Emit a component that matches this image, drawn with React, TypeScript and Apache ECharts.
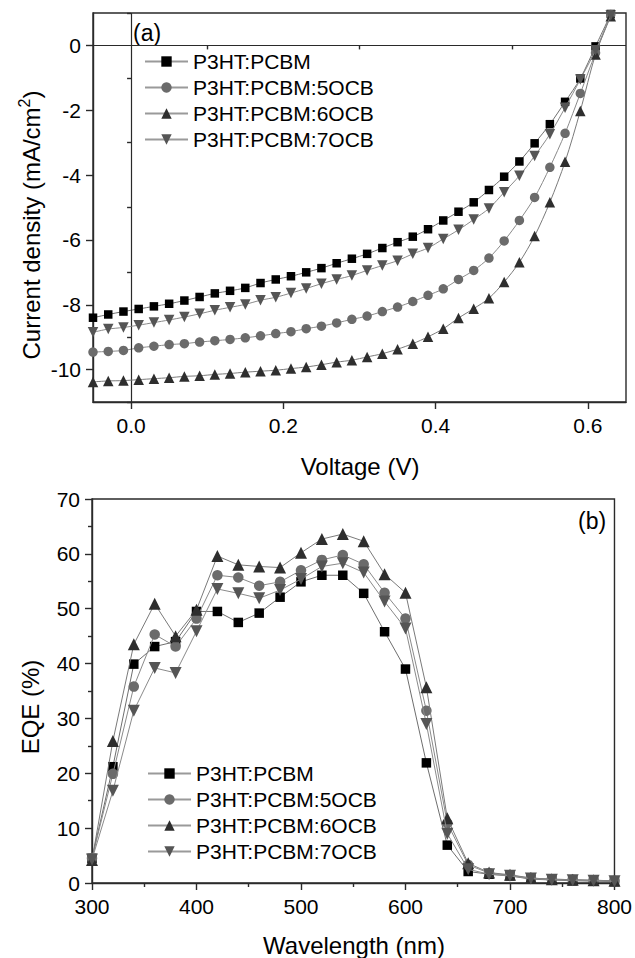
import React, { useEffect, useRef } from "react";
import * as echarts from "echarts";

const seriesNames = ["P3HT:PCBM", "P3HT:PCBM:5OCB", "P3HT:PCBM:6OCB", "P3HT:PCBM:7OCB"];

// Panel (a): J-V curves
const voltage = [-0.05, -0.03, -0.01, 0.01, 0.03, 0.05, 0.07, 0.09, 0.11, 0.13, 0.15, 0.17, 0.19, 0.21, 0.23, 0.25, 0.27, 0.29, 0.31, 0.33, 0.35, 0.37, 0.39, 0.41, 0.43, 0.45, 0.47, 0.49, 0.51, 0.53, 0.55, 0.57, 0.59, 0.61, 0.63];
const jRef = [-8.40, -8.30, -8.21, -8.13, -8.05, -7.97, -7.87, -7.76, -7.65, -7.57, -7.48, -7.33, -7.22, -7.12, -7.00, -6.87, -6.72, -6.58, -6.43, -6.25, -6.07, -5.90, -5.67, -5.40, -5.13, -4.84, -4.46, -4.05, -3.58, -3.02, -2.43, -1.74, -1.02, -0.03, 0.97];
const j5 = [-9.46, -9.44, -9.41, -9.33, -9.28, -9.23, -9.20, -9.15, -9.11, -9.07, -9.02, -8.96, -8.89, -8.83, -8.74, -8.66, -8.56, -8.45, -8.35, -8.21, -8.07, -7.90, -7.71, -7.51, -7.22, -6.94, -6.56, -6.03, -5.40, -4.69, -3.76, -2.71, -1.48, -0.23, 0.95];
const j6 = [-10.38, -10.35, -10.34, -10.31, -10.28, -10.25, -10.21, -10.19, -10.15, -10.12, -10.08, -10.05, -10.02, -9.97, -9.92, -9.85, -9.77, -9.71, -9.61, -9.51, -9.37, -9.20, -8.99, -8.74, -8.41, -8.12, -7.80, -7.30, -6.69, -5.88, -4.84, -3.59, -2.02, -0.28, 0.90];
const j7 = [-8.85, -8.75, -8.70, -8.63, -8.55, -8.47, -8.38, -8.28, -8.17, -8.08, -7.99, -7.86, -7.77, -7.64, -7.50, -7.35, -7.22, -7.10, -6.94, -6.79, -6.64, -6.43, -6.25, -5.97, -5.69, -5.37, -5.03, -4.53, -4.02, -3.41, -2.74, -1.92, -1.05, -0.15, 0.92];

// Panel (b): EQE spectra
const wavelength = [300, 320, 340, 360, 380, 400, 420, 440, 460, 480, 500, 520, 540, 560, 580, 600, 620, 640, 660, 680, 700, 720, 740, 760, 780, 800];
const eqeRef = [4.5, 21.2, 39.9, 43.1, 44.0, 49.5, 49.5, 47.5, 49.2, 52.1, 54.9, 56.1, 56.1, 52.8, 45.8, 39.0, 21.9, 6.9, 2.1, 1.6, 1.3, 0.7, 0.55, 0.4, 0.35, 0.25];
const eqe5 = [4.5, 19.9, 35.8, 45.3, 43.1, 48.2, 56.1, 55.7, 54.2, 54.9, 57.0, 58.9, 59.8, 58.1, 52.9, 48.2, 31.4, 10.9, 3.3, 1.8, 1.4, 0.9, 0.7, 0.6, 0.5, 0.4];
const eqe6 = [4.2, 25.9, 43.5, 50.9, 45.0, 49.8, 59.6, 58.0, 57.7, 57.5, 60.2, 62.7, 63.6, 62.3, 56.3, 52.9, 35.7, 11.8, 3.6, 1.9, 1.5, 0.9, 0.7, 0.6, 0.5, 0.4];
const eqe7 = [4.3, 16.8, 31.4, 39.2, 38.3, 45.9, 53.6, 52.8, 51.9, 53.4, 55.4, 57.7, 58.3, 56.6, 51.3, 46.4, 29.0, 9.0, 2.5, 1.6, 1.3, 0.8, 0.6, 0.5, 0.4, 0.3];

// Tick labels
const jvMajorX = [0, 0.2, 0.4, 0.6];
const jvMinorX = [0.1, 0.3, 0.5];
const jvMajorY = [-10, -8, -6, -4, -2, 0];
const jvMinorY = [-11, -9, -7, -5, -3, -1, 1];

const FONT = "Liberation Sans, Arial, Helvetica, sans-serif";
const TXT = "#000";
const AX = "#2a2a2a";

const markers = [
  { symbol: "rect", rotate: 0, color: "#000000", sizeA: 8.5, sizeB: 9.5, line: "#6e6e6e" },
  { symbol: "circle", rotate: 0, color: "#6b6b6b", sizeA: 9.5, sizeB: 10.5, line: "#8a8a8a" },
  { symbol: "triangle", rotate: 0, color: "#2e2e2e", sizeA: 10.5, sizeB: 12, line: "#7a7a7a" },
  { symbol: "triangle", rotate: 180, color: "#555555", sizeA: 10.5, sizeB: 12, line: "#8a8a8a" },
];

export default function App() {
  const ref = useRef<HTMLDivElement>(null);

  useEffect(() => {
    document.body.style.margin = "0";
    if (!ref.current) return;
    const chart = echarts.init(ref.current, null, { renderer: "svg" });

    const jv = [jRef, j5, j6, j7];
    const eqe = [eqeRef, eqe5, eqe6, eqe7];

    const seriesA = jv.map((ys, i) => ({
      name: seriesNames[i],
      type: "line",
      xAxisIndex: 0,
      yAxisIndex: 0,
      data: voltage.map((v, k) => [v, ys[k]]),
      symbol: markers[i].symbol,
      symbolRotate: markers[i].rotate,
      symbolSize: markers[i].sizeA,
      showSymbol: true,
      smooth: 0.3,
      clip: true,
      itemStyle: { color: markers[i].color, borderWidth: 0 },
      lineStyle: { color: markers[i].line, width: 1 },
      z: 3 + i,
      ...(i === 0
        ? {
            markLine: {
              silent: true,
              symbol: ["none", "none"],
              label: { show: false },
              lineStyle: { color: AX, width: 1.2, type: "solid" },
              emphasis: { disabled: true },
              data: [{ xAxis: 0 }, { yAxis: 0 }],
            },
          }
        : {}),
    }));

    const seriesB = eqe.map((ys, i) => ({
      name: seriesNames[i],
      type: "line",
      xAxisIndex: 2,
      yAxisIndex: 2,
      data: wavelength.map((w, k) => [w, ys[k]]),
      symbol: markers[i].symbol,
      symbolRotate: markers[i].rotate,
      symbolSize: markers[i].sizeB,
      showSymbol: true,
      itemStyle: { color: markers[i].color, borderWidth: 0 },
      lineStyle: { color: markers[i].line, width: 1 },
      z: 3 + i,
    }));

    const labelStyle = { color: TXT, fontSize: 21, fontFamily: FONT };
    const axisLine = { show: true, onZero: false, lineStyle: { color: AX, width: 1.4 } };

    const option: any = {
      animation: false,
      backgroundColor: "#ffffff",
      grid: [
        { left: 93, top: 13, width: 533, height: 389, show: true, borderColor: AX, borderWidth: 1.4, containLabel: false },
        { left: 92, top: 499, width: 524, height: 384, show: true, borderColor: AX, borderWidth: 1.4, containLabel: false },
      ],
      xAxis: [
        {
          gridIndex: 0, type: "value", position: "bottom", min: -0.05, max: 0.65,
          axisLine,
          axisTick: { show: true, customValues: jvMajorX, length: 7, lineStyle: { color: AX, width: 1.4 } },
          axisLabel: { ...labelStyle, customValues: jvMajorX, margin: 13, formatter: (v: number) => v.toFixed(1) },
          splitLine: { show: false },
        },
        {
          gridIndex: 0, type: "value", position: "bottom", offset: 0, min: -0.05, max: 0.65,
          axisLine: { show: false },
          axisTick: { show: true, customValues: jvMinorX, length: 4, lineStyle: { color: AX, width: 1.4 } },
          axisLabel: { show: false },
          splitLine: { show: false },
        },
        {
          gridIndex: 1, type: "value", position: "bottom", min: 300, max: 800, interval: 100,
          axisLine,
          axisTick: { show: true, length: 7, lineStyle: { color: AX, width: 1.4 } },
          minorTick: { show: true, splitNumber: 2, length: 4, lineStyle: { color: AX, width: 1.4 } },
          axisLabel: { ...labelStyle, margin: 13 },
          splitLine: { show: false },
          minorSplitLine: { show: false },
        },
      ],
      yAxis: [
        {
          gridIndex: 0, type: "value", position: "left", min: -11, max: 1,
          axisLine,
          axisTick: { show: true, customValues: jvMajorY, length: 7, lineStyle: { color: AX, width: 1.4 } },
          axisLabel: { ...labelStyle, customValues: jvMajorY, margin: 12 },
          splitLine: { show: false },
        },
        {
          gridIndex: 0, type: "value", position: "left", offset: 0, min: -11, max: 1,
          axisLine: { show: false },
          axisTick: { show: true, customValues: jvMinorY, length: 4, lineStyle: { color: AX, width: 1.4 } },
          axisLabel: { show: false },
          splitLine: { show: false },
        },
        {
          gridIndex: 1, type: "value", position: "left", min: 0, max: 70, interval: 10,
          axisLine,
          axisTick: { show: true, length: 7, lineStyle: { color: AX, width: 1.4 } },
          minorTick: { show: true, splitNumber: 2, length: 4, lineStyle: { color: AX, width: 1.4 } },
          axisLabel: { ...labelStyle, margin: 12 },
          splitLine: { show: false },
          minorSplitLine: { show: false },
        },
      ],
      legend: [
        {
          orient: "vertical", left: 144, top: 51, padding: 0, itemGap: 5,
          itemWidth: 43, itemHeight: 13,
          data: seriesNames,
          textStyle: { color: TXT, fontSize: 21, fontFamily: FONT, lineHeight: 21 },
          selectedMode: false,
          lineStyle: { color: "#9a9a9a" },
        },
        {
          orient: "vertical", left: 147, top: 763, padding: 0, itemGap: 5,
          itemWidth: 43, itemHeight: 13,
          data: seriesNames,
          textStyle: { color: TXT, fontSize: 21, fontFamily: FONT, lineHeight: 21 },
          selectedMode: false,
          lineStyle: { color: "#9a9a9a" },
        },
      ],
      graphic: [
        { type: "text", left: 133, top: 21, style: { text: "(a)", fill: TXT, fontSize: 23, fontFamily: FONT } },
        { type: "text", left: 578, top: 509, style: { text: "(b)", fill: TXT, fontSize: 23, fontFamily: FONT } },
        {
          type: "text", x: 360, y: 466,
          style: { text: "Voltage (V)", fill: TXT, fontSize: 24, fontFamily: FONT, align: "center", verticalAlign: "middle" },
        },
        {
          type: "text", x: 354, y: 945,
          style: { text: "Wavelength (nm)", fill: TXT, fontSize: 24, fontFamily: FONT, align: "center", verticalAlign: "middle" },
        },
        {
          type: "text", x: 30, y: 707, rotation: Math.PI / 2,
          style: { text: "EQE (%)", fill: TXT, fontSize: 24, fontFamily: FONT, align: "center", verticalAlign: "middle" },
        },
        {
          type: "text", x: 31, y: 225, rotation: Math.PI / 2,
          style: {
            text: "{m|Current density (mA/cm}{s|2}{m|)}",
            align: "center", verticalAlign: "middle",
            rich: {
              m: { fill: TXT, fontSize: 24, fontFamily: FONT, lineHeight: 30, verticalAlign: "middle" },
              s: { fill: TXT, fontSize: 16, fontFamily: FONT, lineHeight: 16, verticalAlign: "top" },
            },
          },
        },
      ],
      series: [...seriesA, ...seriesB],
    };

    chart.setOption(option);
    return () => chart.dispose();
  }, []);

  return <div ref={ref} style={{ width: 635, height: 958 }} />;
}
